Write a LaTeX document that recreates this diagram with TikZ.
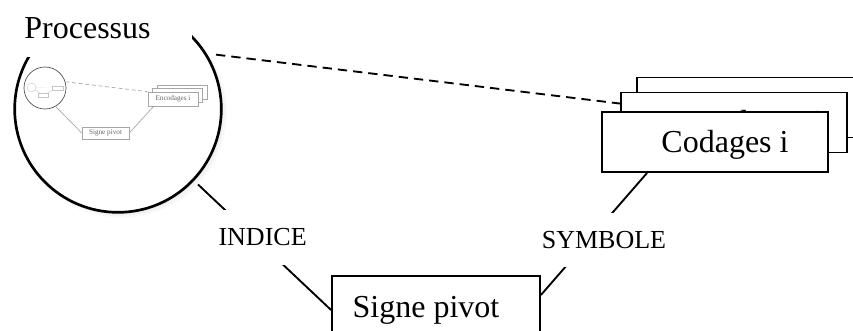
\documentclass[tikz,border=0pt]{standalone}
\usepackage{fontspec}
\setmainfont{Liberation Serif}
\usetikzlibrary{calc,shadows}

\begin{document}
\begin{tikzpicture}[
    x=0.75pt, y=-0.75pt,
    big/.style={font=\fontsize{24pt}{28pt}\selectfont},
    box/.style={rectangle, draw, line width=1.4pt, fill=white, big, inner sep=0pt},
    codbox/.style={box, minimum width=169.5pt, minimum height=45pt, text height=21pt, text depth=5.5pt},
    lbl/.style={fill=white, font=\fontsize{19.5pt}{23pt}\selectfont, inner xsep=4pt, inner ysep=14pt},
    link/.style={line width=1.4pt},
    mini/.style={draw=gray!70, line width=0.5pt},
    minibox/.style={rectangle, mini, fill=white, inner sep=0pt, text=gray!80!black, font=\fontsize{5.4pt}{6pt}\selectfont},
    tiny/.style={draw=gray!45, line width=0.3pt, inner sep=0pt}
]
\useasboundingbox (0,0) rectangle (853,331);
\clip (0,0) rectangle (853,331);

% loupe on the process
\node [circle, draw, line width=2pt, fill=white, minimum size=155pt, inner sep=0pt,
       circular drop shadow={shadow scale=1.03, shadow xshift=2pt, shadow yshift=-2pt, opacity=0.35}] (loupe) at (118,109) {};

% the same diagram, small, inside the loupe
\node [minibox, minimum width=37.5pt, minimum height=10.5pt] (minienc3) at (182,92) {};
\node [minibox, minimum width=37.5pt, minimum height=10.5pt] (minienc2) at (177.5,95.5) {};
\node [minibox, minimum width=37.5pt, minimum height=10.5pt] (minienc) at (173,99) {Encodages i};
\node [minibox, minimum width=35.25pt, minimum height=9pt] (minipivot) at (105.5,133) {Signe pivot};
\node [circle, draw=gray!60!black, line width=0.5pt, fill=white, minimum size=31.5pt, inner sep=0pt] (miniloupe) at (45,88) {};
\draw [mini] (miniloupe.300) -- (minipivot.west);
\draw [mini] (minipivot.east) -- ($(minienc.south west)+(6,0)$);
\draw [mini, densely dashed] (miniloupe.17) -- (minienc.north west);

% and once more inside that one
\node [tiny, circle, minimum size=6.75pt] (tinyloupe) at (31.5,87.5) {};
\node [tiny, rectangle, minimum width=8pt, minimum height=3pt] (tinyenc) at (57.5,88) {};
\node [tiny, rectangle, minimum width=7.5pt, minimum height=3pt] (tinypivot) at (43,95) {};
\draw [tiny] (tinyloupe) -- (tinypivot) -- (tinyenc);
\draw [tiny, densely dotted] (tinyloupe) -- (tinyenc);

\node [big, fill=white, minimum width=144pt, minimum height=42.75pt, inner sep=0pt] (titre) at (96,28.5) {Processus\hspace*{12.75pt}};

% codages, stacked
\node [codbox] (enc3) at (750,107.5) {};
\node [codbox] (enc2) at (734,122.5) {\hspace*{15pt}Encodages i};
\node [codbox] (codages) at (715,142) {\hspace*{15pt}Codages i};
\node [box, minimum width=156pt, minimum height=51pt] (pivot) at (436,310) {Signe pivot\hspace*{15pt}};

\draw [link, dashed, dash pattern=on 7pt off 4.5pt, shorten <=7pt] (loupe.32) -- ($(enc2.north west)+(0,12)$);
\draw [link, shorten <=4pt] (loupe) -- node [lbl, yshift=6pt] (indice) {INDICE} (pivot.west);
\draw [link] ($(codages.south west)+(46,0)$) -- node [lbl, xshift=7.5pt, yshift=-4.5pt] (symbole) {SYMBOLE} ($(pivot.east)+(0,-15)$);
\end{tikzpicture}
\end{document}
